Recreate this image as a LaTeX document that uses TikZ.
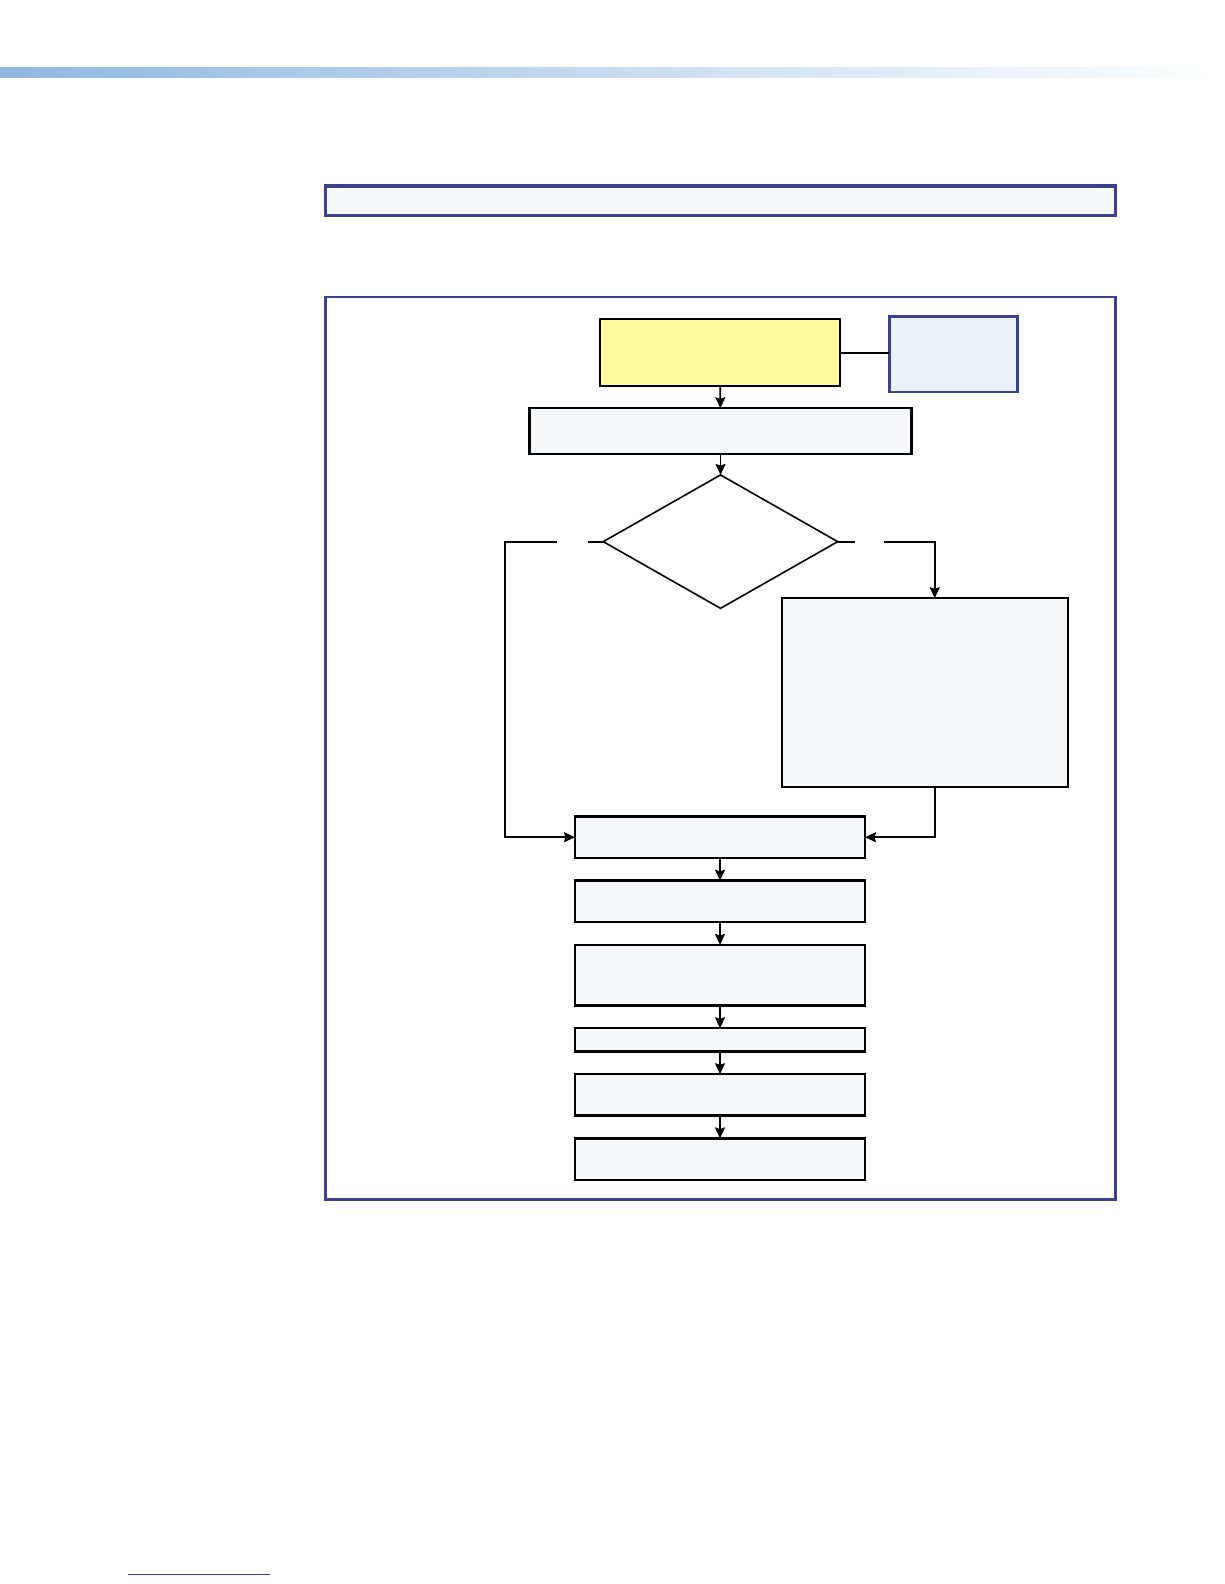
\documentclass[tikz,border=0pt]{standalone}
\usepackage{tikz}
\usetikzlibrary{shapes.geometric, positioning, arrows, arrows.meta, calc}
\newcommand{\px}{0.50525pt}
\newcommand{\stepDistance}{11.37pt}
\definecolor{frameBlue}{HTML}{3B4190}
\definecolor{barBlue}{HTML}{8DB8E3}
\definecolor{barMid}{HTML}{D3E6F6}
\definecolor{boxFill}{HTML}{F4F8FB}
\definecolor{noteFill}{HTML}{EAF2F8}
\definecolor{startYellow}{HTML}{FFFB9C}
\tikzstyle{frame}=[draw=frameBlue, line width=1.2pt, fill=white]
\tikzstyle{banner}=[draw=frameBlue, line width=1.6pt, fill=boxFill]
\tikzstyle{stage}=[draw, line width=1.2pt, fill=boxFill, minimum width={287*\px}, inner sep=0pt, outer sep=0pt]
\tikzstyle{start}=[draw, line width=0.9pt, fill=startYellow, minimum width={237*\px}, minimum height={66*\px}, inner sep=0pt, outer sep=0pt]
\tikzstyle{note}=[draw=frameBlue, line width=1.3pt, fill=noteFill, minimum width={127*\px}, minimum height={75*\px}, inner sep=0pt, outer sep=0pt]
\tikzstyle{decision}=[diamond, draw, line width=0.8pt, fill=white, minimum width={232*\px}, minimum height={132*\px}, inner sep=0pt, outer sep=0pt]
\tikzstyle{link}=[line width=0.9pt]
\tikzstyle{arrow}=[-{Stealth[length=5.5pt, width=5pt, inset=0.8pt]}, line width=0.9pt]

\begin{document}
\begin{tikzpicture}[x=\px, y=-\px, node distance=\stepDistance]
  \useasboundingbox (0,0) rectangle (1211.3,1567.5);
  % page header bar and boxes
  \shade[left color=barBlue, middle color=barMid, right color=white] (0,67) rectangle (1210,77);
  \draw[banner] (322,184) rectangle (1104,213);
  \draw[frame] (322,294) rectangle (1104,1187);

  \node[start] (power) at (712.5,349) {};
  \node[note] (remark) at (943.5,350.5) {};
  \node[stage, minimum width={378*\px}, minimum height={45*\px}] (setup) at (713,426.5) {};
  \node[decision] (check) at (713,536) {};
  \node[stage, minimum width={283*\px}, minimum height={187*\px}] (adjust) at (915.5,685.5) {};

  \node[stage, minimum height={41*\px}] (stepA) at (712.5,828.5) {};
  \node[stage, minimum height={41*\px}, below=of stepA] (stepB) {};
  \node[stage, minimum height={60*\px}, below=of stepB] (stepC) {};
  \node[stage, minimum height={23*\px}, below=of stepC] (stepD) {};
  \node[stage, minimum height={41*\px}, below=of stepD] (stepE) {};
  \node[stage, minimum height={41*\px}, below=of stepE] (stepF) {};

  \coordinate (leftGapA) at (551,536);
  \coordinate (leftGapB) at (582,536);
  \coordinate (leftCorner) at (500,536);
  \coordinate (rightGapA) at (846,536);
  \coordinate (rightGapB) at (875,536);
  \coordinate (rightCorner) at (925,536);

  \draw[link] (power.east) -- (power.east -| remark.west);
  \draw[arrow] (power) -- (setup);
  \draw[arrow] (setup) -- (check);
  \draw[link] (check.west) -- (leftGapB);
  \draw[arrow] (leftGapA) -- (leftCorner) |- (stepA.west);
  \draw[link] (check.east) -- (rightGapA);
  \draw[arrow] (rightGapB) -- (rightCorner) -- (rightCorner |- adjust.north);
  \draw[arrow] (rightCorner |- adjust.south) |- (stepA.east);
  \foreach \from/\to in {stepA/stepB, stepB/stepC, stepC/stepD, stepD/stepE, stepE/stepF}
    \draw[arrow] (\from) -- (\to);

  % footer rule
  \draw[frameBlue, line width=0.8pt] (127,1558) -- (267,1558);
\end{tikzpicture}
\end{document}
